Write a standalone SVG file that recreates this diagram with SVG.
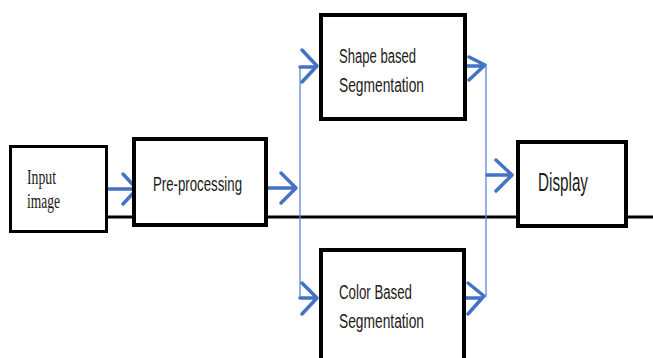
<svg xmlns="http://www.w3.org/2000/svg" width="653" height="358" viewBox="0 0 653 358">
<style>
.box{fill:#fff;stroke:#000;stroke-width:4}
.bus{stroke:#000;stroke-width:3;fill:none}
.arr{stroke:#4472C4;stroke-width:3.5;fill:none;stroke-linecap:round;stroke-linejoin:round}
.vline{stroke:#5B86D0;stroke-width:1.3;fill:none}
.lbl{font-family:"Liberation Sans",Arial,sans-serif;font-size:20px;fill:#1c1a18}
.ser{font-family:"Liberation Serif","Times New Roman",serif;font-size:20px;fill:#1c1a18}
</style>
<rect width="653" height="358" fill="#fff"/>
<g id="connectors">
<line class="bus" x1="108" y1="217" x2="653" y2="217"/>
<path class="arr" d="M108 189H134M123 174L137 189L123 204"/>
<path class="arr" d="M268 188H295M281 173L296 188L281 203"/>
<line class="vline" x1="300" y1="66" x2="300" y2="298"/>
<path class="arr" d="M300 67H315M302 50L317 66L302 82"/>
<path class="arr" d="M300 298H315M302 283L317 298L302 314"/>
<path class="arr" d="M467 66H483M469 57L485 65L469 80"/>
<path class="arr" d="M466 298H482M468 283L484 296L468 314"/>
<line class="vline" x1="486" y1="64" x2="486" y2="297"/>
<path class="arr" d="M487 175H510M496 160L512 175L496 191"/>
</g>
<g id="input">
<rect class="box" x="10.5" y="146.5" width="96" height="85" style="stroke-width:3"/>
<text class="ser" x="27" y="184" textLength="29" lengthAdjust="spacingAndGlyphs">Input</text>
<text class="ser" x="27" y="208" textLength="33" lengthAdjust="spacingAndGlyphs">image</text>
</g>
<g id="preprocessing">
<rect class="box" x="134" y="139" width="132" height="86"/>
<text class="lbl" x="153" y="191" textLength="89" lengthAdjust="spacingAndGlyphs">Pre-processing</text>
</g>
<g id="shape">
<rect class="box" x="321" y="15" width="144" height="104"/>
<text class="lbl" x="339" y="63" textLength="77" lengthAdjust="spacingAndGlyphs">Shape based</text>
<text class="lbl" x="339" y="92" textLength="85" lengthAdjust="spacingAndGlyphs">Segmentation</text>
</g>
<g id="color">
<rect class="box" x="321" y="250" width="143" height="115"/>
<text class="lbl" x="339" y="299" textLength="73" lengthAdjust="spacingAndGlyphs">Color Based</text>
<text class="lbl" x="339" y="328" textLength="85" lengthAdjust="spacingAndGlyphs">Segmentation</text>
</g>
<g id="display">
<rect class="box" x="518" y="142" width="108" height="84"/>
<text class="lbl" x="538" y="191" textLength="50" lengthAdjust="spacingAndGlyphs" style="font-size:25px">Display</text>
</g>
</svg>
